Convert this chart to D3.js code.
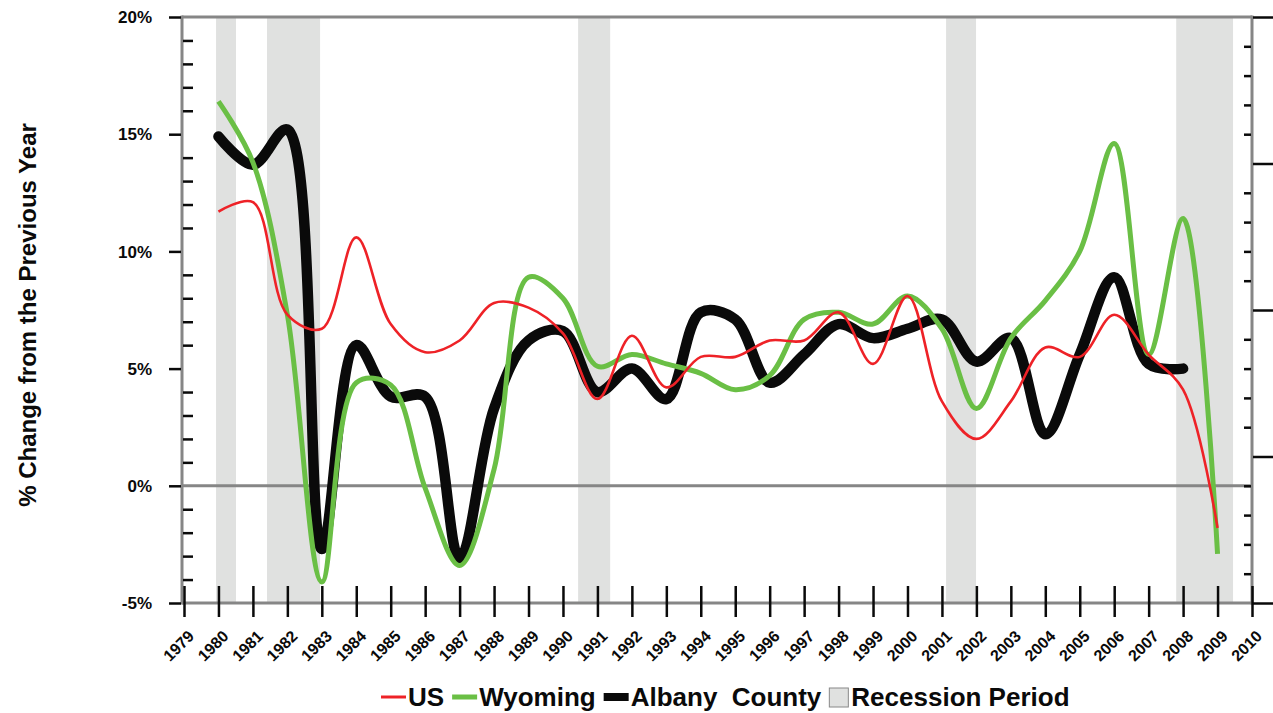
<!DOCTYPE html>
<html>
<head>
<meta charset="utf-8">
<script src="https://cdn.jsdelivr.net/npm/d3@7"></script>
<style>
  html, body { margin: 0; padding: 0; background: #fff; }
  svg { display: block; }
  text { font-family: "Liberation Sans", Arial, sans-serif; font-weight: bold; fill: #0a0a0a; }
</style>
</head>
<body>
<svg id="chart" width="1273" height="713"></svg>
<script>
// ---------------- data ----------------
const years = [1980,1981,1982,1983,1984,1985,1986,1987,1988,1989,1990,1991,1992,1993,1994,
               1995,1996,1997,1998,1999,2000,2001,2002,2003,2004,2005,2006,2007,2008,2009];
const usValues = [11.7,12.1,7.3,6.7,10.6,6.9,5.7,6.2,7.8,7.6,6.5,3.7,6.4,4.2,5.5,
                  5.5,6.2,6.2,7.4,5.2,8.1,3.6,2.0,3.6,5.9,5.5,7.3,5.6,4.1,-1.8];
const wyomingValues = [16.4,13.8,7.3,-4.1,4.4,4.3,-0.1,-3.4,0.7,8.9,8.0,5.1,5.6,5.2,4.8,
                       4.1,4.7,7.1,7.4,6.9,8.1,6.7,3.3,6.3,7.9,10.0,14.6,5.6,11.4,-2.9];
const albanyValues = [14.9,13.7,15.2,-2.7,6.0,3.8,3.8,-3.1,3.3,6.2,6.6,4.0,5.0,3.7,7.4,
                      7.1,4.4,5.6,6.9,6.3,6.7,7.1,5.3,6.3,2.2,5.6,8.9,5.2,5.0];
const recessionStarts = [1979.93, 1981.41, 1990.44, 2001.12, 2007.8];
const recessionEnds   = [1980.51, 1982.95, 1991.37, 2001.99, 2009.45];
const xTickLabels = d3.range(1979, 2011).map(String);
const yTickValues = [-5, 0, 5, 10, 15, 20];
const yTickLabels = ["-5%", "0%", "5%", "10%", "15%", "20%"];
const seriesNames = ["US", "Wyoming", "Albany  County", "Recession Period"];

// ---------------- layout ----------------
const svg = d3.select("#chart");
const L = 182, R = 1252, T = 17, B = 603;
const x = d3.scaleLinear().domain([1979, 2010]).range([184, 1252]);
const y = d3.scaleLinear().domain([-5, 20]).range([B, T]);
const yRight = d3.scaleLinear().domain([0, 20]).range([B, T]);
const gray = "#868686";

// recession bands
svg.append("g").selectAll("rect")
  .data(recessionStarts.map((s, i) => [s, recessionEnds[i]]))
  .join("rect")
  .attr("x", d => x(d[0]))
  .attr("width", d => x(d[1]) - x(d[0]))
  .attr("y", T).attr("height", B - T)
  .attr("fill", "#e0e1e0");

// zero line
svg.append("line")
  .attr("x1", L).attr("x2", R).attr("y1", y(0)).attr("y2", y(0))
  .attr("stroke", gray).attr("stroke-width", 3);

// frame lines
svg.append("line").attr("x1", L).attr("x2", R).attr("y1", T).attr("y2", T)
  .attr("stroke", gray).attr("stroke-width", 3);
svg.append("line").attr("x1", L).attr("x2", R).attr("y1", B).attr("y2", B)
  .attr("stroke", gray).attr("stroke-width", 3);
svg.append("line").attr("x1", L).attr("x2", L).attr("y1", T - 1.5).attr("y2", B + 1.5)
  .attr("stroke", gray).attr("stroke-width", 3);
svg.append("line").attr("x1", R).attr("x2", R).attr("y1", T - 1.5).attr("y2", B + 1.5)
  .attr("stroke", gray).attr("stroke-width", 3);

// left axis ticks (major outward, minor inward)
const leftMajor = svg.append("g").attr("transform", `translate(${L - 1},0)`)
  .call(d3.axisLeft(y).tickValues(yTickValues).tickSize(12).tickFormat(""));
leftMajor.select(".domain").remove();
leftMajor.selectAll("line").attr("stroke", "#0a0a0a").attr("stroke-width", 2.5);
const leftMinor = svg.append("g").attr("transform", `translate(${L + 1},0)`)
  .call(d3.axisRight(y).tickValues(d3.range(-5, 21).filter(v => v % 5 !== 0)).tickSize(10).tickFormat(""));
leftMinor.select(".domain").remove();
leftMinor.selectAll("line").attr("stroke", "#0a0a0a").attr("stroke-width", 2.5);

// left tick labels
svg.append("g").selectAll("text")
  .data(yTickValues)
  .join("text")
  .attr("transform", d => `translate(152,${y(d)})`)
  .attr("text-anchor", "end").attr("dy", "0.36em")
  .style("font-size", "17px")
  .text((d, i) => yTickLabels[i]);

// right axis ticks
const rightMajor = svg.append("g").attr("transform", `translate(${R + 1},0)`)
  .call(d3.axisRight(yRight).tickValues([0, 5, 10, 15, 20]).tickSize(21).tickFormat(""));
rightMajor.select(".domain").remove();
rightMajor.selectAll("line").attr("stroke", "#0a0a0a").attr("stroke-width", 2.5);
const rightMinor = svg.append("g").attr("transform", `translate(${R - 1},0)`)
  .call(d3.axisLeft(yRight).tickValues(d3.range(0, 21).filter(v => v % 5 !== 0)).tickSize(7).tickFormat(""));
rightMinor.select(".domain").remove();
rightMinor.selectAll("line").attr("stroke", "#0a0a0a").attr("stroke-width", 2.5);

// bottom ticks (cross)
const bottomAx = svg.append("g").attr("transform", `translate(0,${B + 14})`)
  .call(d3.axisBottom(x).tickValues(d3.range(1979, 2011)).tickSizeInner(-31).tickSizeOuter(0).tickFormat(""));
bottomAx.select(".domain").remove();
bottomAx.selectAll("line").attr("stroke", "#0a0a0a").attr("stroke-width", 2.5);

// bottom tick labels
svg.append("g").selectAll("text")
  .data(xTickLabels)
  .join("text")
  .attr("transform", d => `translate(${x(+d) + 3},${B + 26}) rotate(-45)`)
  .attr("text-anchor", "end").attr("dy", "0.72em")
  .style("font-size", "16px")
  .text(d => d);

// series lines
const line = d3.line().curve(d3.curveCatmullRom.alpha(0.5))
  .x((d, i) => x(years[i])).y(d => y(d));
svg.append("path").datum(albanyValues)
  .attr("d", line).attr("fill", "none").attr("stroke", "#0a0a0a")
  .attr("stroke-width", 10.5).attr("stroke-linejoin", "round").attr("stroke-linecap", "round");
svg.append("path").datum(wyomingValues)
  .attr("d", line).attr("fill", "none").attr("stroke", "#6abf45")
  .attr("stroke-width", 5).attr("stroke-linejoin", "round");
svg.append("path").datum(usValues)
  .attr("d", line).attr("fill", "none").attr("stroke", "#ee2227")
  .attr("stroke-width", 2.6).attr("stroke-linejoin", "round");

// y axis title
svg.append("text")
  .attr("transform", "translate(36,315) rotate(-90)")
  .attr("text-anchor", "middle")
  .style("font-size", "24px")
  .text("% Change from the Previous Year");

// legend
const legend = svg.append("g");
const legY = 697;
const legendItems = [
  {kind: "line", color: "#ee2227", w: 3, label: seriesNames[0]},
  {kind: "line", color: "#6abf45", w: 5, label: seriesNames[1]},
  {kind: "line", color: "#0a0a0a", w: 8, label: seriesNames[2]},
  {kind: "rect", color: "#e0e1e0", label: seriesNames[3]}
];
let cx = 381;
legendItems.forEach(it => {
  if (it.kind === "line") {
    legend.append("line").attr("x1", cx).attr("x2", cx + 25).attr("y1", legY).attr("y2", legY)
      .attr("stroke", it.color).attr("stroke-width", it.w);
    cx += 27;
  } else {
    legend.append("rect").attr("x", cx).attr("y", legY - 9).attr("width", 19).attr("height", 19)
      .attr("fill", it.color).attr("stroke", "#888").attr("stroke-width", 1);
    cx += 22;
  }
  const t = legend.append("text")
    .attr("transform", `translate(${cx},${legY})`)
    .attr("dy", "0.36em")
    .style("font-size", "26px")
    .attr("xml:space", "preserve")
    .style("white-space", "pre")
    .text(it.label);
  cx += t.node().getComputedTextLength() + 8;
});
</script>
</body>
</html>
